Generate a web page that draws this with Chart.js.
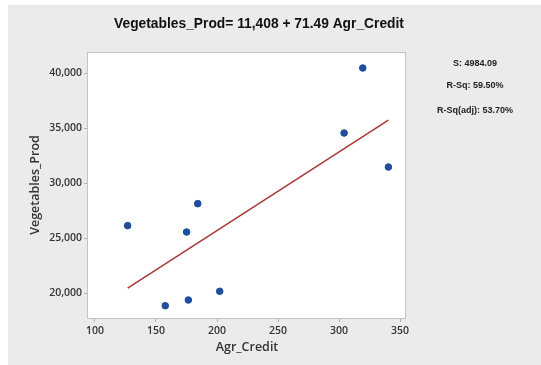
<!DOCTYPE html>
<html>
<head>
<meta charset="utf-8">
<script src="https://cdn.jsdelivr.net/npm/chart.js@4"></script>
<style>
  html, body { margin: 0; padding: 0; background: #fff; }
  #wrap { position: absolute; left: 8px; top: 5px; width: 533px; height: 360px; background: #ebebeb; }
</style>
</head>
<body>
<div id="wrap"><canvas id="regChart" width="533" height="360"></canvas></div>
<script>
// observed points
const agrCredit = [126.8, 157.6, 175.1, 176.5, 184.2, 202.2, 304.1, 319.4, 340.4];
const vegProd = [26150, 18870, 25570, 19390, 28150, 20180, 34570, 40480, 31480];

// fitted line end points
const fitX = [126.8, 340.4];
const fitY = [20470, 35750];

const xTicks = [100, 150, 200, 250, 300, 350];
const yTicks = [20000, 25000, 30000, 35000, 40000];

const titleText = "Vegetables_Prod= 11,408 + 71.49 Agr_Credit";
const statsText = ["S: 4984.09", "R-Sq: 59.50%", "R-Sq(adj): 53.70%"];

const tickFont = { family: "Open Sans", size: 10.5, weight: "600" };

const decor = {
  id: "decor",
  beforeDraw(c) {
    const { ctx, chartArea: a } = c;
    ctx.save();
    ctx.fillStyle = "#fff";
    ctx.fillRect(a.left, a.top, a.right - a.left, a.bottom - a.top);
    ctx.restore();
  },
  afterDraw(c) {
    const { ctx, chartArea: a } = c;
    ctx.save();
    ctx.strokeStyle = "#c4c4c4";
    ctx.lineWidth = 1;
    ctx.strokeRect(a.left - 0.5, a.top - 0.5, a.right - a.left + 1, a.bottom - a.top + 1);

    ctx.fillStyle = "#111";
    ctx.textAlign = "center";
    ctx.textBaseline = "middle";
    ctx.font = "bold 13.8px 'Liberation Sans', Arial, sans-serif";
    ctx.fillText(titleText, 251, 19.5);

    ctx.font = "bold 9px 'Liberation Sans', Arial, sans-serif";
    ctx.fillStyle = "#222";
    ctx.fillText(statsText[0], 467, 59);
    ctx.fillText(statsText[1], 467, 81);
    ctx.fillText(statsText[2], 467, 106);

    ctx.fillStyle = "#333";
    ctx.font = "600 12.5px 'Open Sans', sans-serif";
    ctx.fillText("Agr_Credit", 239, 342);
    ctx.translate(27, 180);
    ctx.rotate(-Math.PI / 2);
    ctx.fillText("Vegetables_Prod", 0, 0);
    ctx.restore();
  }
};

new Chart(document.getElementById("regChart").getContext("2d"), {
  type: "scatter",
  data: {
    datasets: [
      {
        label: "Fit",
        type: "line",
        data: fitX.map((x, i) => ({ x, y: fitY[i] })),
        borderColor: "#a83a3a",
        borderWidth: 1.6,
        pointRadius: 0,
        fill: false,
        tension: 0
      },
      {
        label: "Data",
        data: agrCredit.map((x, i) => ({ x, y: vegProd[i] })),
        backgroundColor: "#1f4e9c",
        borderColor: "#1f4e9c",
        pointRadius: 3.3,
        pointHoverRadius: 3.3
      }
    ]
  },
  options: {
    responsive: false,
    animation: false,
    layout: { padding: { left: 0, top: 48, right: 136, bottom: 0 } },
    plugins: {
      legend: { display: false },
      tooltip: { enabled: false }
    },
    scales: {
      x: {
        type: "linear",
        min: 94.3,
        max: 354,
        afterBuildTicks: s => { s.ticks = xTicks.map(v => ({ value: v })); },
        afterFit: s => { s.height = 47; },
        grid: { drawOnChartArea: false, drawTicks: true, tickLength: 4, color: "#b0b0b0" },
        border: { display: false },
        ticks: { font: tickFont, color: "#333", padding: 3, maxRotation: 0 }
      },
      y: {
        type: "linear",
        min: 17755,
        max: 41845,
        afterBuildTicks: s => { s.ticks = yTicks.map(v => ({ value: v })); },
        afterFit: s => { s.width = 80; },
        grid: { drawOnChartArea: false, drawTicks: true, tickLength: 4, color: "#b0b0b0" },
        border: { display: false },
        ticks: { font: tickFont, color: "#333", padding: 2 }
      }
    }
  },
  plugins: [decor]
});
</script>
</body>
</html>
